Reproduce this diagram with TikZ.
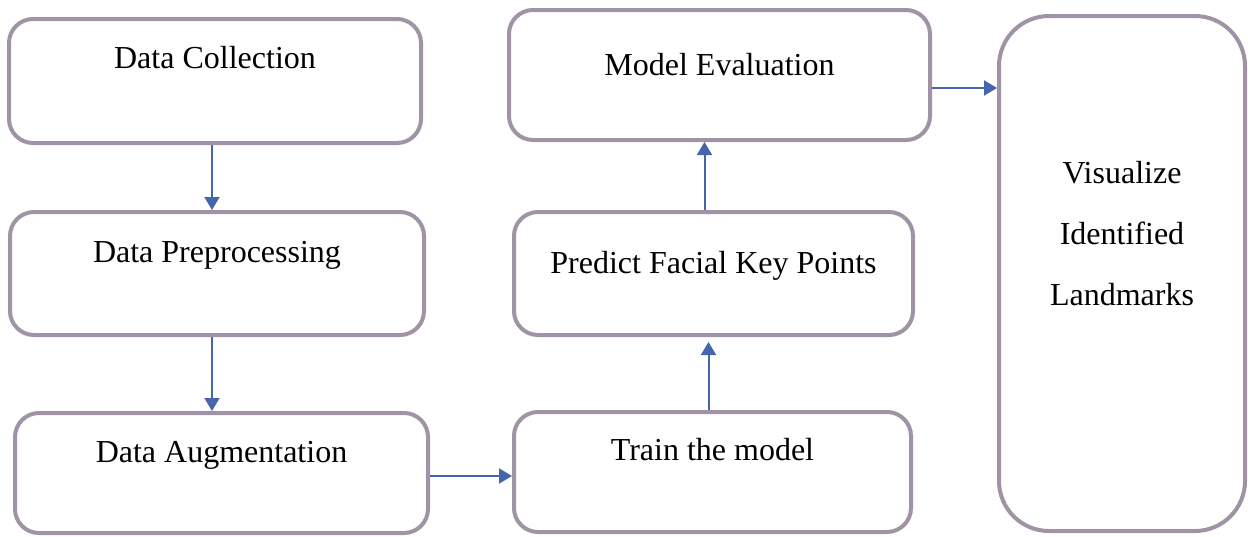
\documentclass[tikz,border=0pt]{standalone}
\usepackage{fontspec}
\setmainfont{Liberation Serif}
\usetikzlibrary{arrows.meta, positioning}
\definecolor{cframe}{HTML}{A093A5}
\definecolor{cblue}{HTML}{4565AD}
\tikzset{
  every picture/.style={x=1pt, y=-1pt, line width=4pt},
  box/.style={draw=cframe, fill=white, rounded corners=24pt, align=center, inner sep=0pt, anchor=north west, font=\fontsize{32}{61}\selectfont},
  arrow/.style={-{Triangle[length=13pt, width=15pt]}, draw=cblue, line width=2pt},
}
\begin{document}
\begin{tikzpicture}
  \useasboundingbox (0,0) rectangle (1248,536);
  % left column
  \node[box, minimum width=412pt, text height=49pt, text depth=75pt] (collect) at (7,17) {Data Collection};
  \node[box, minimum width=414pt, text height=50pt, text depth=73pt] (prep) at (8,210) {Data Preprocessing};
  \node[box, minimum width=413pt, text height=49pt, text depth=71pt] (augment) at (13,411) {Data Augmentation};
  % middle column
  \node[box, minimum width=397pt, text height=48pt, text depth=72pt] (train) at (512,410) {Train the model};
  \node[box, minimum width=399pt, text height=61pt, text depth=62pt] (predict) at (512,210) {Predict Facial Key Points};
  \node[box, minimum width=421pt, text height=65pt, text depth=65pt] (evaluate) at (507,8) {Model Evaluation};
  % right column
  \node[box, rounded corners=50pt, minimum width=246pt, text height=289pt, text depth=226pt] (visual) at (997,14) {Visualize\\Identified\\Landmarks};
  % arrows
  \draw[arrow] ([xshift=-3pt]collect.south) -- ([xshift=-3pt]collect.south |- prep.north);
  \draw[arrow] ([xshift=-5pt]prep.south) -- ([xshift=-5pt]prep.south |- augment.north);
  \draw[arrow] ([yshift=-3pt]augment.east) -- ([yshift=-3pt]augment.east -| train.west);
  \draw[arrow] ([xshift=-4pt]train.north) -- ([xshift=-4pt,yshift=-5pt]train.north |- predict.south);
  \draw[arrow] ([xshift=-9pt]predict.north) -- ([xshift=-9pt]predict.north |- evaluate.south);
  \draw[arrow] ([yshift=-13pt]evaluate.east) -- ([yshift=-13pt]evaluate.east -| visual.west);
\end{tikzpicture}
\end{document}
